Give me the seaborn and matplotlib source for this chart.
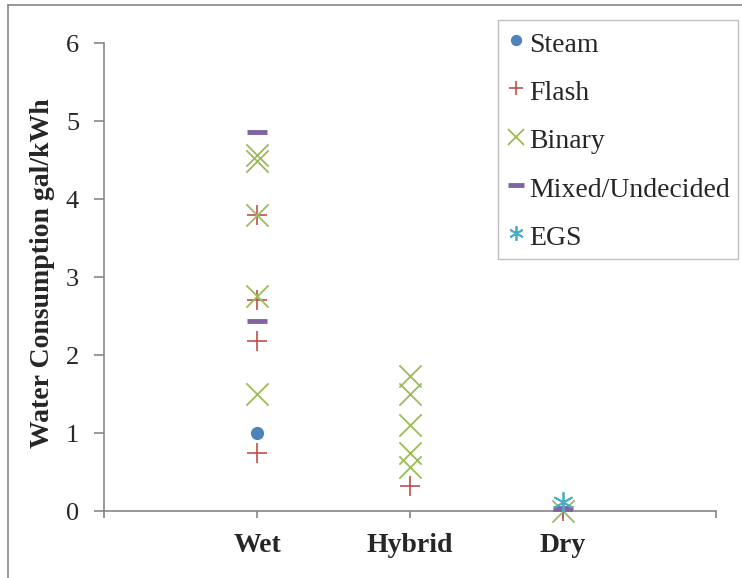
import matplotlib
matplotlib.use("Agg")
import matplotlib.pyplot as plt
from matplotlib.lines import Line2D
import seaborn as sns
import pandas as pd

categories = ["Wet", "Hybrid", "Dry"]

steam_cat = ["Wet"]
steam_val = [1.00]

flash_cat = ["Wet", "Wet", "Wet", "Wet", "Hybrid", "Dry"]
flash_val = [3.79, 2.70, 2.18, 0.74, 0.32, 0.00]

binary_cat = ["Wet", "Wet", "Wet", "Wet", "Wet",
              "Hybrid", "Hybrid", "Hybrid", "Hybrid", "Hybrid", "Dry"]
binary_val = [4.56, 4.49, 3.79, 2.76, 1.50,
              1.73, 1.50, 1.10, 0.75, 0.56, 0.00]

mixed_cat = ["Wet", "Wet", "Dry"]
mixed_val = [4.86, 2.43, 0.04]

egs_cat = ["Dry"]
egs_val = [0.12]

series_names = ["Steam", "Flash", "Binary", "Mixed/Undecided", "EGS"]
y_ticks = [0, 1, 2, 3, 4, 5, 6]

frames = []
for name, cats, vals in [("Steam", steam_cat, steam_val),
                         ("Flash", flash_cat, flash_val),
                         ("Binary", binary_cat, binary_val),
                         ("Mixed/Undecided", mixed_cat, mixed_val),
                         ("EGS", egs_cat, egs_val)]:
    frames.append(pd.DataFrame({"Cooling": cats, "Water": vals, "Type": name}))
df = pd.concat(frames, ignore_index=True)

sns.set_style("white")
plt.rcParams["font.family"] = ["Liberation Serif", "DejaVu Serif"]

styles = {
    "Steam": dict(marker="o", color="#4F81BD", size=9.5, lw=0),
    "Flash": dict(marker="+", color="#C0504D", size=14, lw=1.2),
    "Binary": dict(marker="x", color="#9BBB59", size=16, lw=1.3),
    "Mixed/Undecided": dict(marker="_", color="#8064A2", size=15, lw=3.5),
    "EGS": dict(marker=(6, 2, 0), color="#4BACC6", size=14, lw=1.3),
}

fig = plt.figure(figsize=(7.42, 5.78), dpi=100)
ax = fig.add_axes([104 / 742, 67 / 578, 612 / 742, 468 / 578])

for name in series_names:
    st = styles[name]
    sub = df[df["Type"] == name]
    kws = dict(marker=st["marker"], linewidth=st["lw"], edgecolor=st["color"])
    if st["marker"] == "o":
        kws["linewidth"] = 0
    sns.stripplot(data=sub, x="Cooling", y="Water", order=categories,
                  jitter=False, color=st["color"], size=st["size"],
                  ax=ax, zorder=3, clip_on=False, **kws)

ax.set_xlim(-1, 3)
ax.set_ylim(0, 6)
ax.set_xticks([-1, 0, 1, 2, 3])
ax.set_xticklabels(["", "Wet", "Hybrid", "Dry", ""], fontweight="bold", fontsize=20)
ax.set_yticks(y_ticks)
ax.set_yticklabels([str(t) for t in y_ticks], fontsize=19)
ax.set_xlabel("")
ax.set_ylabel("Water Consumption gal/kWh", fontweight="bold", fontsize=20)
ax.yaxis.set_label_coords(-0.080, 0.509)

axis_col = "#868686"
for s in ["top", "right"]:
    ax.spines[s].set_visible(False)
for s in ["left", "bottom"]:
    ax.spines[s].set_color(axis_col)
    ax.spines[s].set_linewidth(1.2)
ax.tick_params(axis="y", direction="out", length=7, width=1.2, color=axis_col,
               pad=11, left=True)
ax.tick_params(axis="x", direction="out", length=5, width=1.2, color=axis_col,
               pad=11, bottom=True)
ax.grid(False)

handles = []
for name in series_names:
    st = styles[name]
    handles.append(Line2D([], [], linestyle="none", marker=st["marker"],
                          color=st["color"], markersize=st["size"] * 0.75,
                          markeredgewidth=st["lw"] if st["lw"] > 0 else 1,
                          markeredgecolor=st["color"]))
leg = fig.legend(handles, series_names, loc="upper left",
                 bbox_to_anchor=(498 / 742, 1 - 20 / 578),
                 frameon=True, fancybox=False, framealpha=1,
                 edgecolor="#BFBFBF", fontsize=20, borderpad=0.3,
                 labelspacing=0.67, handlelength=0.7, handleheight=1.2,
                 handletextpad=0.12, borderaxespad=0)
leg.get_frame().set_linewidth(1.0)

# outer chart border
fig.add_artist(Line2D([8 / 742, 8 / 742], [0, 1 - 5 / 578], color=axis_col,
                      linewidth=1.2, transform=fig.transFigure))
fig.add_artist(Line2D([8 / 742, 1], [1 - 5 / 578, 1 - 5 / 578], color=axis_col,
                      linewidth=1.2, transform=fig.transFigure))

fig.savefig("out.png", dpi=100)
